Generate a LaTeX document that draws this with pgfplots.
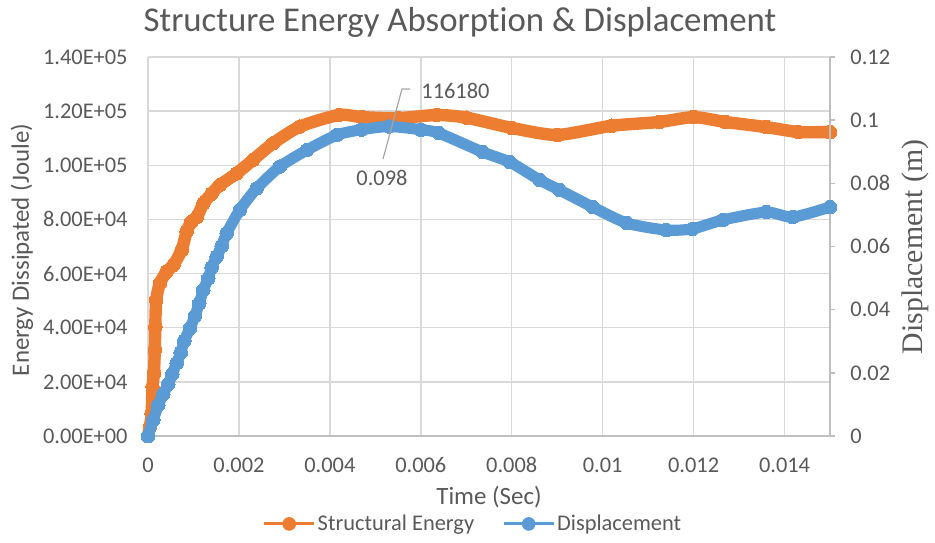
\documentclass[border=0pt]{standalone}
\usepackage{fontspec}
\setmainfont{Carlito}[Ligatures={NoCommon}]
\newfontfamily\serifl{Liberation Serif}
\usepackage{pgfplots}
\pgfplotsset{compat=1.18}
\definecolor{eorange}{HTML}{ED7D31}
\definecolor{eblue}{HTML}{5B9BD5}
\definecolor{txt}{HTML}{595959}
\definecolor{grd}{HTML}{D9D9D9}
\definecolor{axl}{HTML}{BFBFBF}
\definecolor{lead}{HTML}{A6A6A6}
\begin{document}
\begin{tikzpicture}
\path[use as bounding box] (-74pt,-53pt) rectangle (393.5pt,218pt);
\begin{axis}[
  at={(0pt,0pt)}, anchor=south west,
  scale only axis, width=341pt, height=189.5pt,
  xmin=0, xmax=0.015, ymin=0, ymax=140000,
  clip=false,
  scaled x ticks=false, scaled y ticks=false,
  axis x line*=bottom, axis y line*=left,
  x axis line style={draw=axl, line width=0.75pt, -},
  y axis line style={draw=grd, line width=0.75pt, -},
  major tick length=0pt,
  xtick={0,0.002,0.004,0.006,0.008,0.01,0.012,0.014},
  xticklabels={0,0.002,0.004,0.006,0.008,0.01,0.012,0.014},
  ytick={0,20000,40000,60000,80000,100000,120000,140000},
  yticklabels={0.00E+00,2.00E+04,4.00E+04,6.00E+04,8.00E+04,1.00E+05,1.20E+05,1.40E+05},
  xmajorgrids, ymajorgrids,
  grid style={draw=grd, line width=0.75pt},
  xticklabel style={anchor=center, yshift=-14.5pt, font=\fontsize{11.2}{13}\selectfont, text=txt},
  yticklabel style={anchor=east, inner sep=0pt, xshift=-10pt, font=\fontsize{11.2}{13}\selectfont, text=txt},
  legend columns=2,
  legend style={at={(0.4765,-0.232)}, anchor=center, draw=none, fill=none,
    font=\fontsize{11.2}{13}\selectfont, text=txt,
    /tikz/every even column/.append style={column sep=13pt},
    nodes={inner sep=1pt}},
]
\addlegendimage{legend image code/.code={\draw[eorange,line width=1.5pt](0pt,0pt)--(25pt,0pt);\fill[eorange](12.5pt,0pt) circle (3.2pt);}}
\addlegendentry{Structural Energy}
\addlegendimage{legend image code/.code={\draw[eblue,line width=1.5pt](0pt,0pt)--(25pt,0pt);\fill[eblue](12.5pt,0pt) circle (3.2pt);}}
\addlegendentry{Displacement}
\addplot[eorange, line width=6.2pt, line join=round, line cap=round, smooth, tension=0.4, mark=*, mark size=3.4pt, mark options={line width=0pt, draw=eorange, fill=eorange}, forget plot] coordinates {
(0,0) (0.00004,3400) (0.00008,8400) (0.0001,18200) (0.00013,23200) (0.00015,31800)
(0.00016,40400) (0.00018,50200) (0.00026,56400) (0.00041,60700) (0.00056,63200)
(0.00074,68700) (0.00085,75500) (0.00095,79000) (0.00108,81000) (0.00122,86000)
(0.0014,89500) (0.00158,92700) (0.00195,97000) (0.00231,102000) (0.00275,108100)
(0.00334,114300) (0.0042,118600) (0.0047,117800) (0.0055,117400) (0.00635,118600)
(0.0070,117600) (0.008,113800) (0.009,111200) (0.0102,114600) (0.01125,116000)
(0.012,117800) (0.0127,116000) (0.0136,114100) (0.0143,112300) (0.015,112300)
};
\end{axis}
\begin{axis}[
  at={(0pt,0pt)}, anchor=south west,
  scale only axis, width=341pt, height=189.5pt,
  xmin=0, xmax=0.015, ymin=0, ymax=0.12,
  clip=false,
  scaled x ticks=false, scaled y ticks=false,
  axis x line=none, axis y line*=right,
  y axis line style={draw=axl, line width=0.75pt, -},
  ytick={0,0.02,0.04,0.06,0.08,0.1,0.12},
  yticklabels={0,0.02,0.04,0.06,0.08,0.1,0.12},
  tick align=outside, major tick length=2.5pt,
  tick style={draw=axl, line width=0.75pt},
  yticklabel style={anchor=west, inner sep=0pt, xshift=7.5pt, font=\fontsize{11.2}{13}\selectfont, text=txt},
]
\addplot[eblue, line width=5.6pt, line join=round, line cap=round, smooth, tension=0.4, mark=*, mark size=3.4pt, mark options={line width=0pt, draw=eblue, fill=eblue}] coordinates {
(0,0) (0.000116,0.00507) (0.000226,0.00981) (0.000336,0.0133) (0.000446,0.01646)
(0.000534,0.01963) (0.000631,0.02311) (0.000719,0.02637) (0.000798,0.03017)
(0.000923,0.0341) (0.001033,0.038) (0.001127,0.042) (0.001215,0.04622)
(0.001325,0.04993) (0.0014,0.05341) (0.00151,0.05677) (0.00162,0.06015)
(0.00173,0.0642) (0.00202,0.0716) (0.00239,0.0784) (0.0029,0.0853)
(0.00349,0.0905) (0.00415,0.0953) (0.0047,0.0970) (0.0053,0.0980) (0.006,0.0970)
(0.0064,0.0959) (0.00736,0.0899) (0.00796,0.0867) (0.00862,0.081) (0.00905,0.0779)
(0.00978,0.0725) (0.01053,0.0674) (0.0114,0.0652) (0.01198,0.0656) (0.01264,0.0684)
(0.0136,0.0709) (0.01418,0.0693) (0.015,0.0725)
};
\end{axis}
% data labels
\draw[lead, line width=0.6pt] (131pt,173.5pt) -- (127pt,173.5pt) -- (117.5pt,138.5pt);
\node[anchor=west, inner sep=0pt, text=txt, font=\fontsize{11.2}{13}\selectfont] at (136.5pt,172.5pt) {116180};
\node[anchor=center, inner sep=0pt, text=txt, font=\fontsize{11.2}{13}\selectfont] at (117pt,129pt) {0.098};
% titles
\node[anchor=base, inner sep=0pt, text=txt, font=\fontsize{17.4}{20}\selectfont] at (156pt,202.5pt) {Structure Energy Absorption \& Displacement};
\node[anchor=center, inner sep=0pt, text=txt, font=\fontsize{12.45}{15}\selectfont] at (170.5pt,-30.5pt) {Time (Sec)};
\node[anchor=center, inner sep=0pt, rotate=90, text=txt, font=\fontsize{12.45}{15}\selectfont] at (-63pt,93pt) {Energy Dissipated (Joule)};
\node[anchor=center, inner sep=0pt, rotate=90, text=txt, font=\serifl\fontsize{14.9}{17}\selectfont] at (383.5pt,94.5pt) {Displacement (m)};
\end{tikzpicture}
\end{document}
